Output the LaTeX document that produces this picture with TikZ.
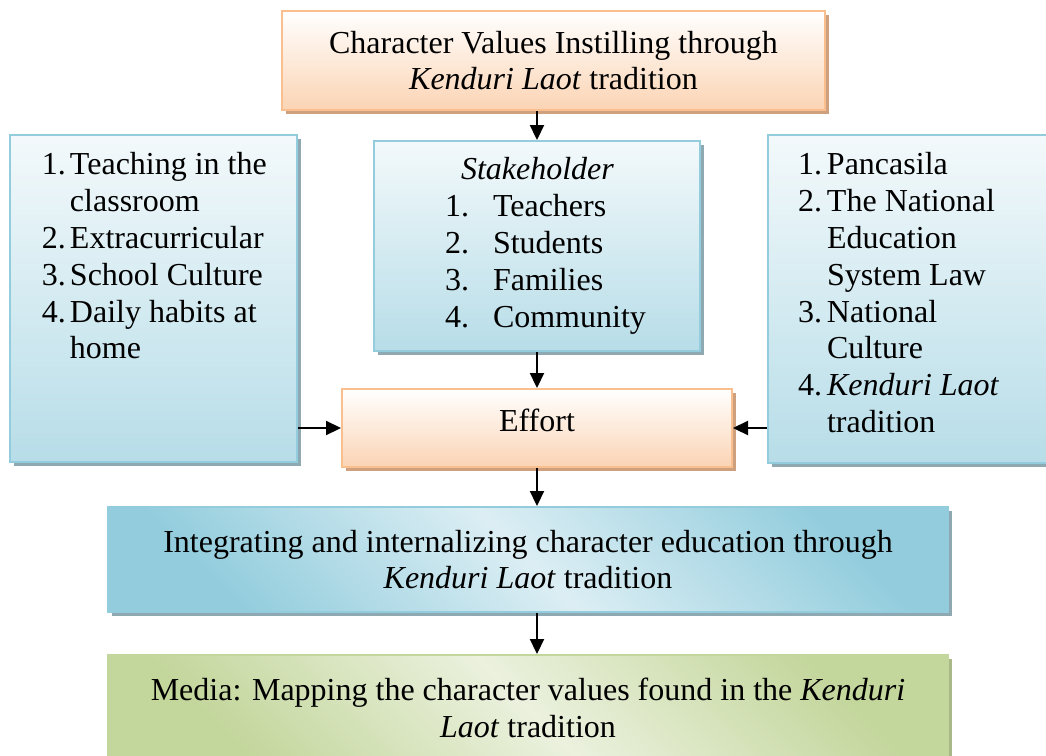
\documentclass[tikz,border=0pt]{standalone}
\usepackage{fontspec}
\setmainfont{Liberation Serif}
\usetikzlibrary{positioning, arrows.meta, shadows}

\definecolor{peach}{HTML}{FBD4B4}
\definecolor{peachline}{HTML}{F9BF8F}
\definecolor{peachshadow}{HTML}{CFA07E}
\definecolor{aqua}{HTML}{B7DDE8}
\definecolor{aqualight}{HTML}{F3F9FB}
\definecolor{aquaband}{HTML}{DCEEF4}
\definecolor{aquadark}{HTML}{93CDDD}
\definecolor{aquashadow}{HTML}{8FA9B2}
\definecolor{leaf}{HTML}{C3D69B}
\definecolor{leaflight}{HTML}{EBF1DE}
\definecolor{leafshadow}{HTML}{A9B886}

\begin{document}
\begin{tikzpicture}[x=0.5pt, y=-0.5pt,
  font=\fontsize{16}{18.4}\selectfont,
  box/.style={draw, line width=1pt, inner sep=0pt, align=center},
  boxshadow/.style={drop shadow={shadow xshift=2pt, shadow yshift=-2pt, fill=#1, opacity=1}},
  orangebox/.style={box, draw=peachline, top color=white, bottom color=peach, boxshadow=peachshadow},
  bluebox/.style={box, draw=aquadark, top color=aqualight, bottom color=aqua, boxshadow=aquashadow},
  bandbox/.style={box, draw=aquadark, top color=aquadark, bottom color=aquadark,
    middle color=aquaband, shading angle=-45, boxshadow=aquashadow},
  greenbox/.style={box, draw=leaf, top color=leaf, bottom color=leaf,
    middle color=leaflight, shading angle=-45, boxshadow=leafshadow},
  arrow/.style={-{Triangle[length=7.5pt, width=7pt]}, line width=1.1pt}
]
  \useasboundingbox (0,0) rectangle (1046,756);
  \clip (0,0) rectangle (1046,756);

  \node[orangebox, minimum width=271.5pt, minimum height=49.5pt] (instil) at (553.5,60.5)
    {Character Values Instilling through\\\textit{Kenduri Laot} tradition};

  % the three columns
  \node[bluebox] (ways) at (153.5,298.5) {\parbox[c][163.5pt][t]{143.5pt}{\vspace*{7.1pt}\hspace*{16pt}%
    \begin{tabular}[t]{@{}p{14pt}@{}l@{}}
      1. & Teaching in the\\ & classroom\\ 2. & Extracurricular\\
      3. & School Culture\\ 4. & Daily habits at\\ & home
    \end{tabular}}};
  \node[bluebox] (stake) at (537,246) {\parbox[c][105pt][t]{163pt}{\vspace*{6.6pt}\hspace*{35.5pt}%
    \begin{tabular}[t]{@{}p{24pt}@{}l@{}}
      \multicolumn{2}{@{\hspace{8pt}}l@{}}{\textit{Stakeholder}}\\
      1. & Teachers\\ 2. & Students\\ 3. & Families\\ 4. & Community
    \end{tabular}}};
  \node[bluebox] (laws) at (911.5,299) {\parbox[c][164pt][t]{143.5pt}{\vspace*{7.1pt}\hspace*{15pt}%
    \begin{tabular}[t]{@{}p{14.5pt}@{}l@{}}
      1. & Pancasila\\ 2. & The National\\ & Education\\ & System Law\\
      3. & National\\ & Culture\\ 4. & \textit{Kenduri Laot}\\ & tradition
    \end{tabular}}};

  \node[orangebox, minimum width=195pt, minimum height=39pt, text depth=8pt] (effort) at (537,428) {Effort};

  \node[bandbox, minimum width=420pt, minimum height=52.5pt] (integ) at (528,559.5)
    {Integrating and internalizing character education through\\\textit{Kenduri Laot} tradition};
  \node[greenbox, minimum width=420pt, minimum height=52.5pt] (media) at (528,707.5)
    {Media: Mapping the character values found in the \textit{Kenduri}\\\textit{Laot} tradition};

  \draw[arrow] (instil.south -| stake.north) -- (stake.north);
  \draw[arrow] (stake.south) -- (stake.south |- effort.north);
  \draw[arrow] (ways.east |- effort.west) -- (effort.west);
  \draw[arrow] (laws.west |- effort.east) -- (effort.east);
  \draw[arrow] (effort.south) -- (effort.south |- integ.north);
  \draw[arrow] (integ.south -| effort.south) -- (media.north -| effort.south);
\end{tikzpicture}
\end{document}
